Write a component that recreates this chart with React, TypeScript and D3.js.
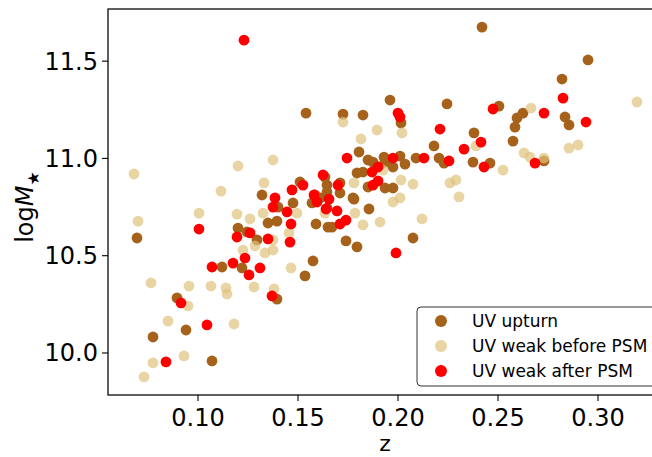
import * as d3 from 'd3';

// [z, logM*]
const upturn: [number, number][] = [
  [0.242, 11.675], [0.295, 11.506], [0.282, 11.408], [0.196, 11.3], [0.2245, 11.28],
  [0.2505, 11.269], [0.154, 11.233], [0.1725, 11.228], [0.1825, 11.223], [0.2015, 11.182],
  [0.2595, 11.208], [0.2625, 11.233], [0.2585, 11.161], [0.2835, 11.213], [0.2855, 11.172],
  [0.238, 11.131], [0.2575, 11.089], [0.218, 11.064], [0.1805, 11.033], [0.185, 10.992],
  [0.1875, 10.981], [0.1935, 10.981], [0.201, 11.012], [0.2035, 10.971], [0.209, 11.002],
  [0.2205, 11.002], [0.223, 10.976], [0.2375, 10.981], [0.246, 10.976], [0.273, 10.987],
  [0.1975, 10.956], [0.1795, 10.925], [0.1825, 10.93], [0.185, 10.853], [0.171, 10.874],
  [0.1645, 10.863], [0.151, 10.879], [0.132, 10.812], [0.1775, 10.797], [0.1585, 10.812],
  [0.1935, 10.848], [0.1975, 10.848], [0.178, 10.791], [0.1855, 10.74], [0.165, 10.647],
  [0.174, 10.576], [0.1795, 10.545], [0.2075, 10.591], [0.1575, 10.473], [0.1535, 10.396],
  [0.1395, 10.277], [0.122, 10.437], [0.112, 10.442], [0.0695, 10.591], [0.0775, 10.082],
  [0.094, 10.118], [0.0895, 10.283], [0.107, 9.959], [0.12, 10.642], [0.1245, 10.622],
  [0.1295, 10.581], [0.135, 10.668], [0.1395, 10.678], [0.14, 10.75], [0.1475, 10.771],
  [0.157, 10.771], [0.1645, 10.827], [0.159, 10.663], [0.167, 10.647], [0.171, 10.822],
  [0.193, 11.007], [0.1645, 10.745], [0.161, 10.797], [0.1635, 10.904],
];

const weakBefore: [number, number][] = [
  [0.068, 10.92], [0.07, 10.678], [0.0765, 10.36], [0.0775, 9.949], [0.073, 9.877],
  [0.093, 9.985], [0.085, 10.164], [0.095, 10.242], [0.0955, 10.344], [0.1065, 10.344],
  [0.114, 10.334], [0.1145, 10.303], [0.118, 10.149], [0.1005, 10.719], [0.1115, 10.832],
  [0.12, 10.961], [0.1375, 10.992], [0.133, 10.874], [0.128, 10.339], [0.138, 10.329],
  [0.1465, 10.437], [0.1225, 10.529], [0.1285, 10.55], [0.1335, 10.514], [0.1375, 10.529],
  [0.1195, 10.714], [0.126, 10.689], [0.1325, 10.719], [0.1495, 10.719], [0.1455, 10.617],
  [0.1635, 10.719], [0.1785, 10.719], [0.1825, 10.658], [0.191, 10.673], [0.1975, 10.776],
  [0.201, 10.797], [0.2015, 10.889], [0.2075, 10.868], [0.2305, 10.802], [0.212, 10.689],
  [0.178, 10.874], [0.1925, 10.94], [0.202, 11.131], [0.1895, 11.146], [0.1815, 11.1],
  [0.1725, 11.187], [0.239, 11.064], [0.226, 10.874], [0.229, 10.889], [0.2525, 10.94],
  [0.263, 11.028], [0.266, 11.007], [0.2665, 11.259], [0.273, 11.002], [0.2855, 11.053],
  [0.29, 11.069], [0.3195, 11.29], [0.1375, 10.581],
];

const weakAfter: [number, number][] = [
  [0.123, 11.608], [0.2825, 11.31], [0.2, 11.233], [0.201, 11.213], [0.2475, 11.254],
  [0.273, 11.233], [0.294, 11.187], [0.221, 11.151], [0.2415, 11.084], [0.233, 11.048],
  [0.1745, 11.002], [0.1975, 11.002], [0.213, 11.002], [0.2255, 10.987], [0.243, 10.956],
  [0.2685, 10.976], [0.19, 10.956], [0.187, 10.93], [0.19, 10.884], [0.1875, 10.863],
  [0.1625, 10.915], [0.1525, 10.863], [0.147, 10.838], [0.17, 10.863], [0.1385, 10.797],
  [0.1375, 10.75], [0.158, 10.812], [0.1595, 10.776], [0.1445, 10.725], [0.1465, 10.663],
  [0.1655, 10.791], [0.164, 10.74], [0.1695, 10.73], [0.174, 10.683], [0.171, 10.663],
  [0.126, 10.617], [0.135, 10.586], [0.146, 10.57], [0.1235, 10.488], [0.1175, 10.462],
  [0.131, 10.437], [0.107, 10.442], [0.137, 10.293], [0.1195, 10.596], [0.1255, 10.401],
  [0.1005, 10.637], [0.0915, 10.257], [0.1045, 10.144], [0.084, 9.954], [0.199, 10.514],
];

const xTicks = [0.1, 0.15, 0.2, 0.25, 0.3];
const yTicks = [10.0, 10.5, 11.0, 11.5];

const series = [
  { name: 'UV upturn', data: upturn, color: '#a6611a', opacity: 1 },
  { name: 'UV weak before PSM', data: weakBefore, color: '#dfc27d', opacity: 0.7 },
  { name: 'UV weak after PSM', data: weakAfter, color: '#ff0000', opacity: 1 },
];

const W = 652;
const H = 457;
const left = 108, right = 653, top = 9, bottom = 395;

export default function App() {
  const x = d3.scaleLinear().domain([0.055, 0.3275]).range([left, right]);
  const y = d3.scaleLinear().domain([9.784, 11.768]).range([bottom, top]);
  const font = 'DejaVu Sans, sans-serif';

  return (
    <div style={{ position: 'absolute', left: 0, top: 0 }}>
      <svg width={W} height={H} style={{ display: 'block', background: '#fff' }} fontFamily={font}>
        <defs>
          <clipPath id="plot-clip">
            <rect x={left} y={top} width={right - left} height={bottom - top} />
          </clipPath>
        </defs>

        <g clipPath="url(#plot-clip)">
          {series.map((s) => (
            <g key={s.name}>
              {s.data.map((d, i) => (
                <circle key={i} cx={x(d[0])} cy={y(d[1])} r={5.4}
                  fill={s.color} fillOpacity={s.opacity} />
              ))}
            </g>
          ))}
        </g>

        {/* spines */}
        <rect x={left} y={top} width={right - left} height={bottom - top}
          fill="none" stroke="#000" strokeWidth={1.25} />

        {/* x axis */}
        {xTicks.map((t) => (
          <g key={t} transform={`translate(${x(t)},${bottom})`}>
            <line y2={6} stroke="#000" strokeWidth={1.1} />
            <text y={31} textAnchor="middle" fontSize={24} fill="#000">{t.toFixed(2)}</text>
          </g>
        ))}
        <text x={(left + 652) / 2 + 5} y={451} textAnchor="middle" fontSize={22} fill="#000">z</text>

        {/* y axis */}
        {yTicks.map((t) => (
          <g key={t} transform={`translate(${left},${y(t)})`}>
            <line x2={-6} stroke="#000" strokeWidth={1.1} />
            <text x={-10} dy="0.35em" textAnchor="end" fontSize={24} fill="#000">{t.toFixed(1)}</text>
          </g>
        ))}
        <text transform="translate(33,207) rotate(-90)" textAnchor="middle" fontSize={24} fill="#000">
          log<tspan fontStyle="italic">M</tspan><tspan fontSize={16} dy={6}>★</tspan>
        </text>

        {/* legend */}
        <g transform="translate(417,307)">
          <rect x={0} y={0} width={250} height={79} rx={4} fill="#fff" fillOpacity={0.85}
            stroke="#333" strokeWidth={1} />
          {series.map((s, i) => (
            <g key={s.name} transform={`translate(0,${14 + i * 25})`}>
              <circle cx={24} cy={0} r={6} fill={s.color} fillOpacity={s.opacity} />
              <text x={55} dy="0.35em" fontSize={17} fill="#000">{s.name}</text>
            </g>
          ))}
        </g>
      </svg>
    </div>
  );
}
